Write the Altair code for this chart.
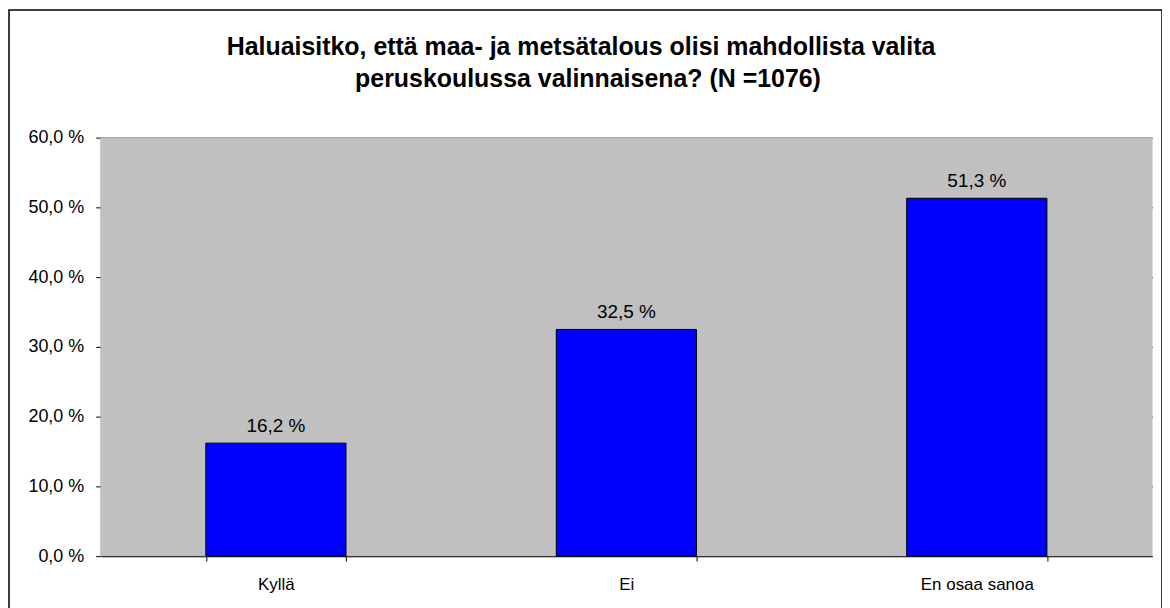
import altair as alt
import pandas as pd

categories = ["Kyllä", "Ei", "En osaa sanoa"]
values = [16.2, 32.5, 51.3]
labels = ["16,2 %", "32,5 %", "51,3 %"]
title_lines = ["Haluaisitko, että maa- ja metsätalous olisi mahdollista valita",
               "peruskoulussa valinnaisena? (N =1076)"]

df = pd.DataFrame({"cat": categories, "val": values, "lab": labels})
FONT = "Liberation Sans"

x = alt.X("cat:N", sort=categories, title=None,
          scale=alt.Scale(paddingInner=0.6, paddingOuter=0.3),
          axis=alt.Axis(labelAngle=0, labelFontSize=17, labelFont=FONT, labelColor="#000",
                        labelPadding=15, tickBand="extent", tickSize=5, tickColor="#000",
                        domainColor="#000", grid=False))
y = alt.Y("val:Q", title=None,
          scale=alt.Scale(domain=[0, 60], nice=False),
          axis=alt.Axis(values=[0, 10, 20, 30, 40, 50, 60],
                        labelExpr="replace(format(datum.value, '.1f'), '.', ',') + ' %'",
                        labelFontSize=18, labelFont=FONT, labelColor="#000", labelPadding=12,
                        tickSize=5, tickColor="#000", domainColor="#808080",
                        grid=True, gridColor="#000", gridOpacity=1, gridWidth=1))

one = pd.DataFrame({"a": [0]})

bg = alt.Chart(one).mark_rect(fill="#C0C0C0").encode(
    x=alt.value(0), x2=alt.value(1055), y=alt.value(0), y2=alt.value(420))

bars = alt.Chart(df).mark_bar(color="#0000FF", stroke="#000", strokeWidth=1).encode(x=x, y=y)
text = alt.Chart(df).mark_text(baseline="alphabetic", dy=-11, fontSize=19, font=FONT, color="#000").encode(
    x=alt.X("cat:N", sort=categories), y="val:Q", text="lab:N")

t1 = alt.Chart(one).mark_text(text=title_lines[0], fontSize=25, fontWeight="bold", font=FONT,
                              color="#000", baseline="middle").encode(x=alt.value(482), y=alt.value(-91))
t2 = alt.Chart(one).mark_text(text=title_lines[1], fontSize=25, fontWeight="bold", font=FONT,
                              color="#000", baseline="middle").encode(x=alt.value(489), y=alt.value(-59))

border = alt.Chart(one).mark_rect(fill=None, stroke="#000", strokeWidth=1.5).encode(
    x=alt.value(-92), x2=alt.value(1065), y=alt.value(-128), y2=alt.value(500))

chart = alt.layer(bg, bars, text, t1, t2, border).properties(
    width=1055, height=420,
    padding={"left": 93, "top": 129, "right": 10, "bottom": 51},
    autosize=alt.AutoSizeParams(type="none"),
).configure_view(stroke="#808080", strokeWidth=1).configure(background="white")

chart.save("out.html", embed_options={"renderer": "svg", "actions": False})
